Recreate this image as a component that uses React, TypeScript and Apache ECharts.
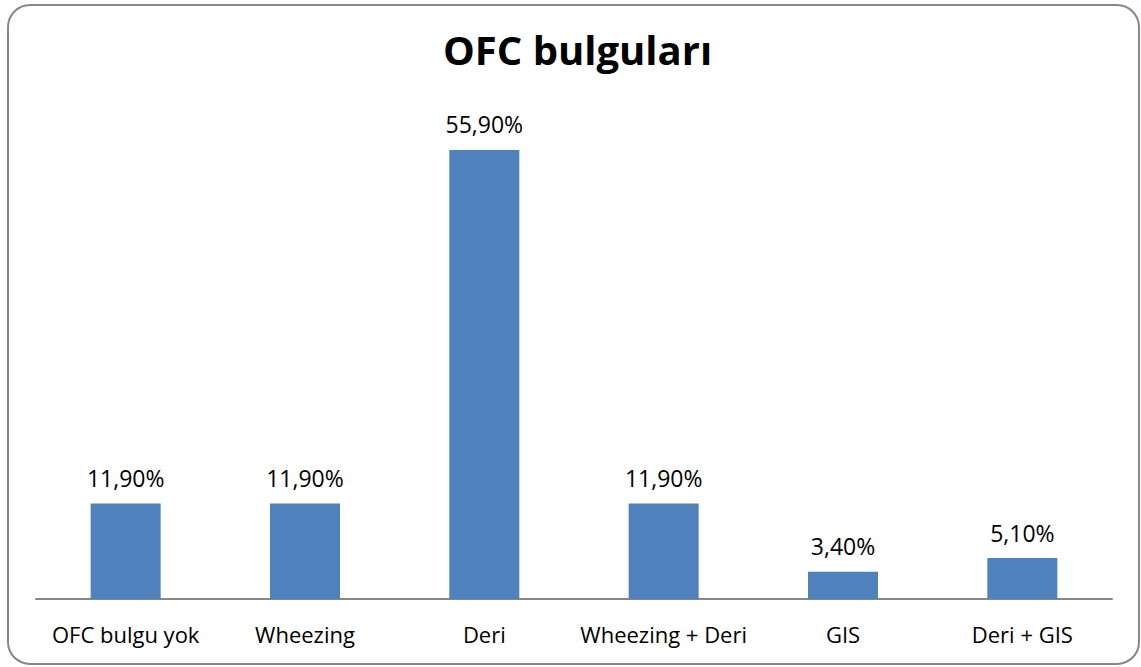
import React, { useEffect, useRef } from "react";
import * as echarts from "echarts";

const categories = ["OFC bulgu yok", "Wheezing", "Deri", "Wheezing + Deri", "GIS", "Deri + GIS"];
const values = [11.9, 11.9, 55.9, 11.9, 3.4, 5.1];
const titleText = "OFC bulguları";

export default function App() {
  const ref = useRef<HTMLDivElement>(null);
  useEffect(() => {
    if (!ref.current) return;
    const chart = echarts.init(ref.current, undefined, { renderer: "svg" });
    chart.setOption({
      animation: false,
      backgroundColor: "#ffffff",
      title: {
        text: titleText,
        left: 443,
        top: 29,
        padding: 0,
        textStyle: { fontFamily: "Open Sans", fontWeight: "bold", fontSize: 40, color: "#000" },
      },
      graphic: [
        {
          type: "rect",
          shape: { x: 8, y: 5, width: 1131, height: 659, r: 22 },
          style: { fill: "none", stroke: "#878787", lineWidth: 2 },
          silent: true,
        },
      ],
      grid: { left: 36, right: 29, top: 117, bottom: 68 },
      xAxis: {
        type: "category",
        data: categories,
        axisLine: { lineStyle: { color: "#878787", width: 2 } },
        axisTick: { show: false },
        axisLabel: { fontFamily: "Open Sans", fontSize: 22, color: "#000", margin: 24, interval: 0 },
      },
      yAxis: {
        type: "value",
        min: 0,
        max: 60,
        show: false,
        splitLine: { show: false },
      },
      series: [
        {
          type: "bar",
          data: values,
          barWidth: 70,
          itemStyle: { color: "#4F81BD" },
          label: {
            show: true,
            position: "top",
            distance: 14,
            fontFamily: "Open Sans",
            fontSize: 23,
            color: "#000",
            formatter: (p: any) => p.value.toFixed(2).replace(".", ",") + "%",
          },
        },
      ],
    });
    return () => chart.dispose();
  }, []);
  return <div ref={ref} style={{ width: 1141, height: 667, position: "absolute", left: 0, top: 0 }} />;
}
